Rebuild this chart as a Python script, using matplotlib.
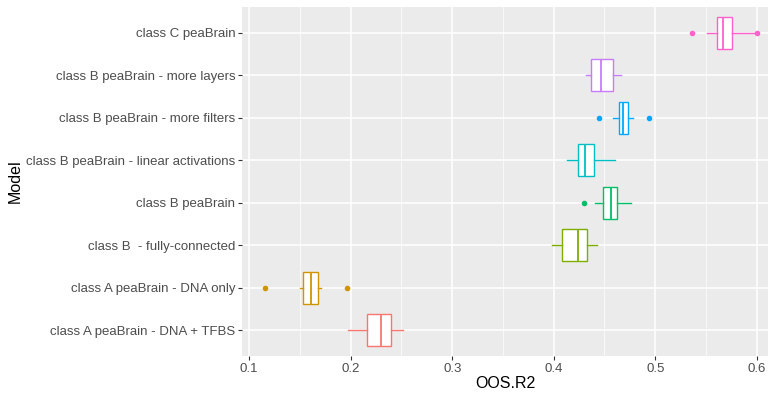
import matplotlib.pyplot as plt
import numpy as np

plt.rcParams['font.family'] = ['Liberation Sans', 'DejaVu Sans']

# models, bottom to top
models = ["class A peaBrain - DNA + TFBS", "class A peaBrain - DNA only",
          "class B  - fully-connected", "class B peaBrain",
          "class B peaBrain - linear activations", "class B peaBrain - more filters",
          "class B peaBrain - more layers", "class C peaBrain"]
colors = ["#F8766D", "#CD9600", "#7CAE00", "#00BE67",
          "#00BFC4", "#00A9FF", "#C77CFF", "#FF61CC"]

# box stats
whis_lo = [0.197, 0.150, 0.398, 0.441, 0.413, 0.458, 0.432, 0.551]
q1      = [0.216, 0.153, 0.408, 0.449, 0.424, 0.464, 0.437, 0.561]
med     = [0.230, 0.161, 0.424, 0.456, 0.431, 0.468, 0.447, 0.567]
q3      = [0.240, 0.168, 0.433, 0.462, 0.440, 0.473, 0.458, 0.576]
whis_hi = [0.252, 0.171, 0.443, 0.476, 0.460, 0.478, 0.466, 0.597]
outliers = [[], [0.116, 0.196], [], [0.430], [], [0.445, 0.494], [], [0.536, 0.600]]

fig = plt.figure(figsize=(7.71, 3.94), dpi=100)
ax = fig.add_axes([0.314, 0.097, 0.682, 0.885])
ax.set_facecolor("#EBEBEB")

stats = []
for i in range(len(models)):
    stats.append(dict(whislo=whis_lo[i], q1=q1[i], med=med[i], q3=q3[i],
                      whishi=whis_hi[i], fliers=outliers[i]))

pos = np.arange(1, len(models) + 1)
bp = ax.bxp(stats, positions=pos, vert=False, widths=0.75, patch_artist=True,
            showcaps=False, zorder=3)
for i, c in enumerate(colors):
    bp["boxes"][i].set(facecolor="white", edgecolor=c, linewidth=1.0)
    bp["medians"][i].set(color=c, linewidth=1.3)
    bp["whiskers"][2*i].set(color=c, linewidth=1.0)
    bp["whiskers"][2*i+1].set(color=c, linewidth=1.0)
    bp["fliers"][i].set(marker="o", markerfacecolor=c, markeredgecolor=c,
                        markersize=3, linestyle="none")

ax.set_xlim(0.093, 0.611)
ax.set_ylim(0.4, len(models) + 0.6)
ax.set_xticks([0.1, 0.2, 0.3, 0.4, 0.5, 0.6])
ax.set_xticklabels(["0.1", "0.2", "0.3", "0.4", "0.5", "0.6"])
ax.set_xticks([0.15, 0.25, 0.35, 0.45, 0.55], minor=True)
ax.set_yticks(pos)
ax.set_yticklabels(models)

ax.grid(which="major", color="white", linewidth=1.1, zorder=0)
ax.grid(which="minor", axis="x", color="white", linewidth=0.5, zorder=0)
ax.set_axisbelow(True)
for s in ax.spines.values():
    s.set_visible(False)

ax.tick_params(axis="both", which="major", length=3, width=0.8, color="#333333",
               labelsize=9.5, labelcolor="#4D4D4D", pad=2)
ax.tick_params(axis="x", which="minor", length=0)

ax.set_xlabel("OOS.R2", fontsize=11.5, labelpad=1)
ax.set_ylabel("Model", fontsize=11.5, labelpad=2)

fig.savefig("out.png", dpi=100)
